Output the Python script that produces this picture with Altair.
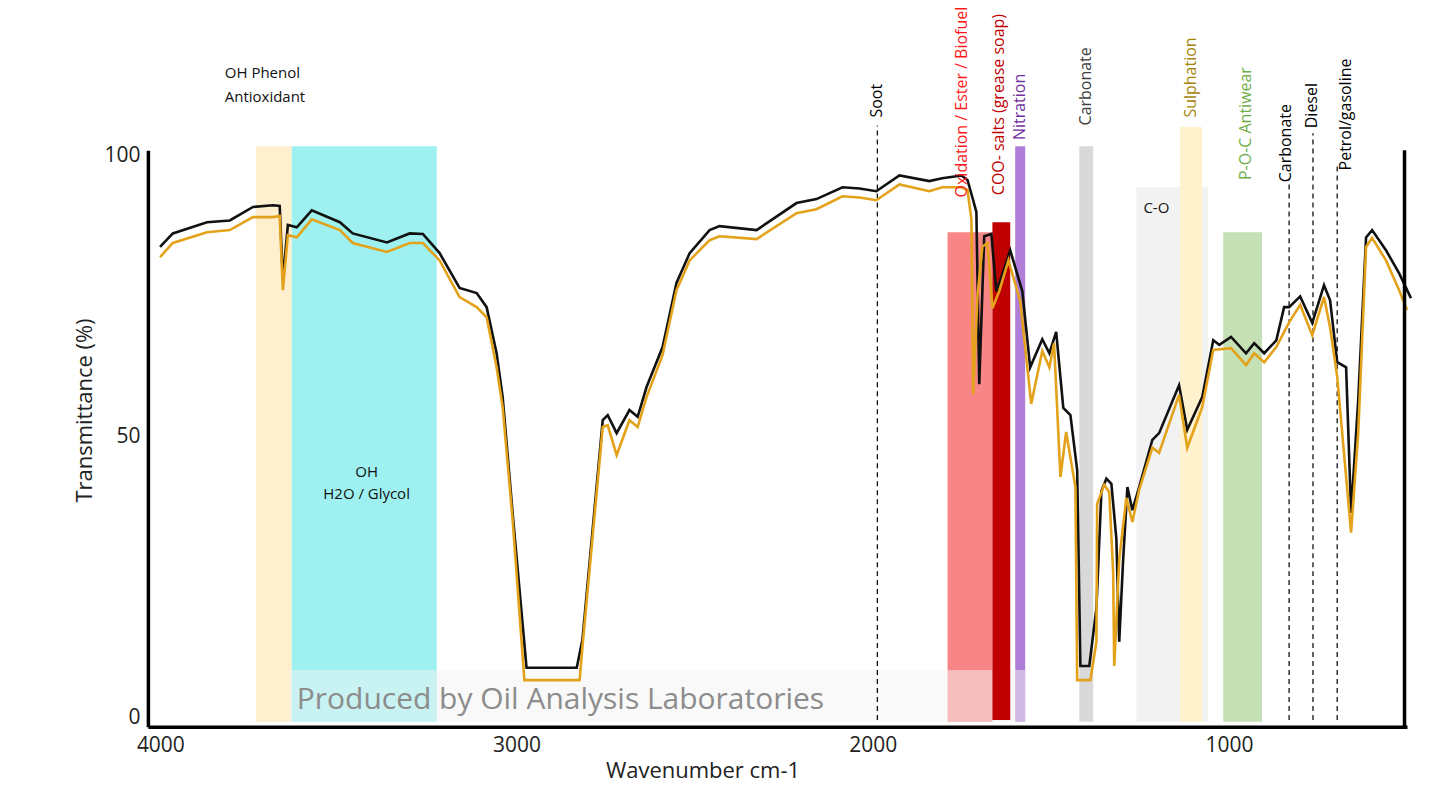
import altair as alt
import pandas as pd

# ---------------- curve data (wavenumber cm-1, transmittance %) ----------------
black_wn = [4001, 3965, 3869, 3805, 3740, 3684, 3665, 3656, 3642, 3617, 3575, 3496, 3460,
            3364, 3300, 3263, 3216, 3160, 3112, 3084, 3056, 3039, 3011, 2972, 2831, 2815,
            2758, 2744, 2719, 2683, 2660, 2635, 2590, 2551, 2514, 2458, 2430, 2326, 2214,
            2158, 2085, 2037, 1990, 1925, 1841, 1805, 1751, 1734, 1718, 1709, 1701, 1687,
            1667, 1653, 1639, 1614, 1580, 1558, 1524, 1504, 1485, 1465, 1445, 1426, 1417,
            1392, 1372, 1358, 1344, 1330, 1316, 1308, 1297, 1285, 1271, 1252, 1215, 1196,
            1140, 1117, 1075, 1044, 1027, 994, 952, 929, 901, 867, 845, 831, 800, 766, 733,
            716, 696, 671, 657, 637, 615, 598, 559, 522, 489]
black_t = [83.7, 86.1, 88.1, 88.4, 90.8, 91.1, 91.0, 77.8, 87.6, 87.2, 90.2, 88.1, 86.1,
           84.5, 86.1, 86.0, 82.6, 76.4, 75.5, 73.0, 64.8, 57.0, 36.4, 8.9, 8.9, 13.9,
           52.9, 53.8, 50.6, 54.7, 53.5, 58.8, 65.9, 77.3, 82.6, 86.7, 87.4, 86.7, 91.5,
           92.2, 94.3, 94.1, 93.6, 96.4, 95.4, 95.9, 96.4, 95.6, 92.0, 89.9, 59.3, 85.6,
           86.0, 75.8, 78.3, 83.1, 75.8, 62.3, 67.3, 64.8, 68.6, 55.1, 53.8, 44.0, 9.2,
           9.2, 19.5, 40.3, 42.5, 41.6, 31.8, 13.5, 28.1, 41.0, 36.9, 41.0, 49.4, 50.6,
           59.1, 51.2, 57.0, 67.1, 66.3, 67.7, 64.8, 66.6, 64.8, 67.1, 73.0, 73.0, 74.9,
           70.2, 76.9, 74.2, 63.2, 62.3, 36.4, 56.5, 85.4, 86.7, 83.1, 79.0, 74.6]

orange_wn = [4001, 3965, 3869, 3805, 3740, 3684, 3665, 3656, 3642, 3617, 3575, 3496, 3460,
             3364, 3300, 3263, 3216, 3160, 3112, 3084, 3056, 3039, 3011, 2978, 2823, 2815,
             2758, 2744, 2719, 2683, 2660, 2635, 2590, 2551, 2514, 2458, 2430, 2326, 2214,
             2158, 2085, 2037, 1990, 1925, 1841, 1805, 1751, 1734, 1723, 1718, 1706, 1692,
             1678, 1664, 1645, 1619, 1586, 1555, 1524, 1504, 1491, 1473, 1457, 1431, 1426,
             1389, 1372, 1370, 1350, 1336, 1325, 1322, 1308, 1288, 1271, 1252, 1215, 1196,
             1140, 1117, 1075, 1044, 994, 952, 929, 901, 867, 831, 800, 766, 733, 716, 696,
             657, 637, 615, 598, 559, 522, 500]
orange_t = [81.9, 84.4, 86.3, 86.7, 89.0, 89.0, 89.2, 76.0, 85.8, 85.4, 88.6, 86.7, 84.4,
            82.8, 84.4, 84.4, 81.3, 74.8, 73.0, 71.2, 62.3, 55.2, 35.2, 6.7, 6.7, 12.6,
            51.7, 52.0, 46.7, 52.9, 51.7, 57.0, 64.5, 76.0, 81.3, 84.9, 85.6, 85.1, 89.7,
            90.4, 92.7, 92.5, 92.0, 94.8, 93.6, 94.3, 94.3, 93.8, 88.6, 57.5, 75.0, 83.8,
            84.4, 72.8, 75.8, 81.3, 74.1, 55.8, 65.2, 62.3, 66.6, 42.8, 50.8, 41.0, 6.7,
            6.7, 13.5, 38.0, 41.4, 40.1, 25.8, 9.2, 28.1, 39.1, 34.8, 40.5, 48.0, 47.1,
            57.4, 48.0, 55.2, 65.4, 65.7, 62.7, 64.8, 63.2, 65.9, 70.3, 73.4, 68.0, 74.8,
            69.4, 60.6, 32.9, 50.6, 83.7, 85.3, 81.3, 76.0, 72.5]

# ---------------- shaded regions ----------------
band_start = [3732, 3631, 1790, 1600, 1420, 1260, 1137, 1016]
band_end = [3631, 3224, 1664, 1572, 1381, 1058, 1075, 907]
band_top = [101.6, 101.6, 86.3, 101.6, 101.6, 94.3, 105.0, 86.3]
band_bottom = [-0.7, -0.7, -0.7, -0.7, -0.7, -0.7, -0.7, -0.7]
band_color = ["#FEEFCF", "#9EF1F0", "#F98686", "#AE7ED8", "#D9D9D9", "#F2F2F2", "#FFF2CC", "#C5E0B4"]

coo_start = [1664]
coo_end = [1614]
coo_top = [88.1]
coo_bottom = [-0.4]

mark_start = [3637]
mark_end = [1572]
mark_top = [8.5]
mark_bottom = [-0.7]

# ---------------- dashed reference lines ----------------
dash_wn = [1987, 831, 764, 696]
dash_top = [105.3, 95.6, 103.9, 98.6]
dash_bottom = [-0.4, -0.4, -0.4, -0.4]

# ---------------- annotations ----------------
rot_text = ["Soot", "Oxidation / Ester / Biofuel", "COO- salts (grease soap)", "Nitration",
            "Carbonate", "Sulphation", "P-O-C Antiwear", "Carbonate", "Diesel", "Petrol/gasoline"]
rot_wn = [1987, 1748, 1645, 1586, 1400, 1106, 952, 839, 766, 671]
rot_t = [106.7, 92.5, 92.9, 102.7, 105.3, 106.7, 95.6, 95.2, 104.8, 97.3]
rot_color = ["#000000", "#FF1A1A", "#C00000", "#7030A0", "#404040", "#A5850A",
             "#70AD47", "#000000", "#000000", "#000000"]

hl_text = ["OH Phenol", "Antioxidant", "C-O"]
hl_wn = [3819, 3819, 1240]
hl_t = [114.6, 110.3, 90.6]

hc_text = ["OH", "H2O / Glycol"]
hc_wn = [3421, 3421]
hc_t = [43.7, 39.8]

wm_text = ["Produced by Oil Analysis Laboratories"]
wm_wn = [3617]
wm_t = [1.6]

x_ticks = [4000, 3000, 2000, 1000]
y_ticks = [0, 50, 100]

FONT = "Open Sans"
W, H = 1260, 577
xs = alt.Scale(domain=[500, 4035], reverse=True, nice=False, zero=False)
ys = alt.Scale(domain=[-1.6, 100.9], nice=False, zero=False)

AX_X = alt.Axis(values=x_ticks, format="d", grid=False, ticks=False, title="Wavenumber cm-1",
                domainColor="#000000", domainWidth=3.5, labelFont=FONT, labelFontSize=21,
                labelColor="#222222", labelPadding=8, titleFont=FONT, titleFontSize=22,
                titleFontWeight="normal", titleColor="#222222", titleX=555, titleY=34,
                titleBaseline="top", titleAlign="center")
AX_Y = alt.Axis(values=y_ticks, format="d", grid=False, ticks=False, title="Transmittance (%)",
                domainColor="#000000", domainWidth=3.5, labelFont=FONT, labelFontSize=21,
                labelColor="#222222", labelPadding=8, titleFont=FONT, titleFontSize=22,
                titleFontWeight="normal", titleColor="#222222", titleX=-63, titleY=260,
                titleAngle=270, titleAlign="center", titleBaseline="middle")


def X(f):
    return alt.X(f, type="quantitative", scale=xs, axis=AX_X)


def Y(f):
    return alt.Y(f, type="quantitative", scale=ys, axis=AX_Y)


bands_df = pd.DataFrame({"a": band_start, "b": band_end, "t": band_top, "u": band_bottom, "c": band_color})
bands = alt.Chart(bands_df).mark_rect().encode(
    x=X("a"), x2="b", y=Y("u"), y2="t", color=alt.Color("c:N", scale=None))

mark_df = pd.DataFrame({"a": mark_start, "b": mark_end, "t": mark_top, "u": mark_bottom})
overlay = alt.Chart(mark_df).mark_rect(color="#F3F3F3", opacity=0.5).encode(
    x=X("a"), x2="b", y=Y("u"), y2="t")

coo_df = pd.DataFrame({"a": coo_start, "b": coo_end, "t": coo_top, "u": coo_bottom})
coo = alt.Chart(coo_df).mark_rect(color="#C00000").encode(
    x=X("a"), x2="b", y=Y("u"), y2="t")

dash_df = pd.DataFrame({"w": dash_wn, "t": dash_top, "u": dash_bottom})
dashes = alt.Chart(dash_df).mark_rule(color="#111111", strokeWidth=1.3, strokeDash=[5, 4]).encode(
    x=X("w"), y=Y("u"), y2="t")

wm_df = pd.DataFrame({"s": wm_text, "w": wm_wn, "t": wm_t})
watermark = alt.Chart(wm_df).mark_text(
    align="left", baseline="alphabetic", font=FONT, fontSize=30, color="#8C8C8C"
).encode(x=X("w"), y=Y("t"), text="s:N")

black_df = pd.DataFrame({"w": black_wn, "t": black_t, "i": range(len(black_wn))})
orange_df = pd.DataFrame({"w": orange_wn, "t": orange_t, "i": range(len(orange_wn))})

black_line = alt.Chart(black_df).mark_line(color="#111111", strokeWidth=2.6).encode(
    x=X("w"), y=Y("t"), order="i:Q")

orange_line = alt.Chart(orange_df).mark_line(color="#E3A21A", strokeWidth=2.6).encode(
    x=X("w"), y=Y("t"), order="i:Q")

right_df = pd.DataFrame({"w": [507]})
right_rule = alt.Chart(right_df).mark_rule(color="#000000", strokeWidth=3.5).encode(
    x=X("w"), y=alt.value(0), y2=alt.value(H))

rot_df = pd.DataFrame({"s": rot_text, "w": rot_wn, "t": rot_t, "c": rot_color})
rot_labels = alt.Chart(rot_df).mark_text(
    angle=270, align="left", baseline="middle", font=FONT, fontSize=16).encode(
    x=X("w"), y=Y("t"), text="s:N", color=alt.Color("c:N", scale=None))

hl_df = pd.DataFrame({"s": hl_text, "w": hl_wn, "t": hl_t})
hl_labels = alt.Chart(hl_df).mark_text(
    align="left", baseline="middle", font=FONT, fontSize=15, color="#111111").encode(
    x=X("w"), y=Y("t"), text="s:N")

hc_df = pd.DataFrame({"s": hc_text, "w": hc_wn, "t": hc_t})
hc_labels = alt.Chart(hc_df).mark_text(
    align="center", baseline="middle", font=FONT, fontSize=15, color="#111111").encode(
    x=X("w"), y=Y("t"), text="s:N")

chart = alt.layer(
    bands, overlay, coo, dashes, watermark, black_line, orange_line, right_rule,
    rot_labels, hl_labels, hc_labels
).properties(
    width=W, height=H,
    background="white",
    autosize=alt.AutoSizeParams(type="none"),
    padding={"left": 140, "top": 142, "right": 20, "bottom": 75},
).configure_view(stroke=None)

chart.save("out.html", embed_options={"renderer": "svg", "actions": False})
